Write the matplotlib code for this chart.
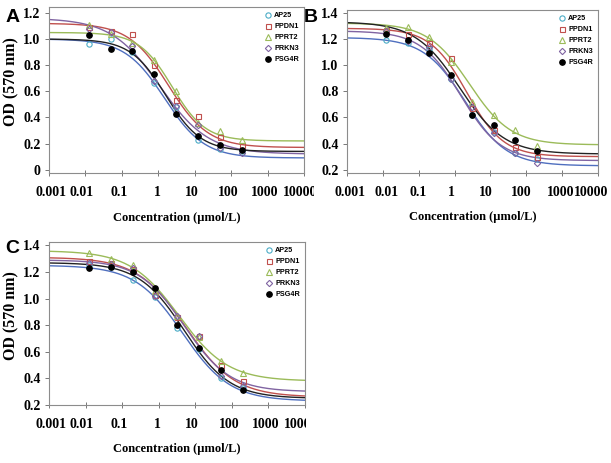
import matplotlib
matplotlib.use("Agg")
import matplotlib.pyplot as plt
from matplotlib.transforms import Bbox, ScaledTranslation
import numpy as np

# tested concentrations (umol/L), 4-fold dilution series
conc = [0.0122, 0.0488, 0.195, 0.781, 3.125, 12.5, 50, 200]
series = ["AP25", "PPDN1", "PPRT2", "PRKN3", "PSG4R"]

# measured OD values, panel A
a_ap25 = [0.96, 1.00, 0.90, 0.66, 0.48, 0.23, 0.16, 0.14]
a_ppdn1 = [1.09, 1.06, 1.04, 0.80, 0.53, 0.41, 0.25, 0.19]
a_pprt2 = [1.11, 1.04, 0.97, 0.84, 0.60, 0.36, 0.30, 0.23]
a_prkn3 = [1.08, 1.05, 0.95, 0.68, 0.49, 0.34, 0.17, 0.13]
a_psg4r = [1.03, 0.92, 0.91, 0.73, 0.43, 0.26, 0.19, 0.15]

# panel B
b_ap25 = [1.19, 1.17, 1.12, 0.89, 0.62, 0.49, 0.33, 0.28]
b_ppdn1 = [1.27, 1.24, 1.17, 1.05, 0.67, 0.50, 0.37, 0.30]
b_pprt2 = [1.28, 1.29, 1.21, 1.02, 0.72, 0.62, 0.50, 0.38]
b_prkn3 = [1.26, 1.18, 1.14, 0.89, 0.68, 0.48, 0.33, 0.25]
b_psg4r = [1.24, 1.19, 1.09, 0.92, 0.62, 0.54, 0.43, 0.34]

# panel C
c_ap25 = [1.25, 1.24, 1.14, 1.01, 0.78, 0.62, 0.40, 0.33]
c_ppdn1 = [1.28, 1.27, 1.22, 1.03, 0.86, 0.72, 0.50, 0.38]
c_pprt2 = [1.34, 1.30, 1.25, 1.06, 0.87, 0.71, 0.53, 0.44]
c_prkn3 = [1.27, 1.26, 1.23, 1.02, 0.87, 0.72, 0.42, 0.34]
c_psg4r = [1.23, 1.24, 1.20, 1.08, 0.80, 0.63, 0.46, 0.31]

# fitted 4-parameter logistic curves (top, bottom, EC50, hill), order as series
a_top = [1.00, 1.12, 1.05, 1.16, 1.00]
a_bottom = [0.09, 0.17, 0.22, 0.12, 0.14]
a_ec50 = [1.5, 1.9, 2.4, 1.1, 1.6]
a_hill = [0.8, 0.8, 0.95, 0.65, 0.9]

b_top = [1.21, 1.28, 1.32, 1.26, 1.33]
b_bottom = [0.23, 0.30, 0.39, 0.27, 0.32]
b_ec50 = [2.0, 2.2, 2.6, 1.5, 1.4]
b_hill = [0.75, 0.85, 0.75, 0.78, 0.7]

c_top = [1.25, 1.31, 1.36, 1.29, 1.27]
c_bottom = [0.23, 0.26, 0.38, 0.30, 0.25]
c_ec50 = [4.5, 5.5, 3.6, 5.0, 5.0]
c_hill = [0.67, 0.65, 0.65, 0.7, 0.7]

a_yticks = [0, 0.2, 0.4, 0.6, 0.8, 1.0, 1.2]
a_ylabels = ["0", "0.2", "0.4", "0.6", "0.8", "1.0", "1.2"]
bc_yticks = [0.2, 0.4, 0.6, 0.8, 1.0, 1.2, 1.4]
bc_ylabels = ["0.2", "0.4", "0.6", "0.8", "1.0", "1.2", "1.4"]
xticks = [0.001, 0.01, 0.1, 1, 10, 100, 1000, 10000]
xlabels = ["0.001", "0.01", "0.1", "1", "10", "100", "1000", "10000"]

# the x labels in the source figure sit a little left of their ticks (pixels)
ac_xshift = [2, -4, -3, -1, -3, -3, -3, -4]
b_xshift = [3, 4, -1, -3, -5, -5, -1, -7]

markers = ["o", "s", "^", "D", "o"]
mcolors = ["#4bacc6", "#c0504d", "#9bbb59", "#8064a2", "black"]
lcolors = ["#4f6fbf", "#c0504d", "#9bbb59", "#8064a2", "#222222"]
msizes = [3.8, 3.6, 4.2, 3.2, 4.0]

serif = "Liberation Serif"
sans = "Liberation Sans"

W, H = 611, 463
fig = plt.figure(figsize=(W / 100, H / 100), dpi=100)


def px_axes(l, t, r, b):
    return fig.add_axes([l / W, 1 - b / H, (r - l) / W, (b - t) / H])


def logistic(x, top, bottom, ec50, hill):
    return bottom + (top - bottom) / (1 + (x / ec50) ** hill)


def panel(ax, data, top, bottom, ec50, hill, ylim, yticks, ylabels, xshift,
          clip_right=None, ylabel=True):
    xs = np.logspace(-3, 4, 300)
    for i, name in enumerate(series):
        ax.plot(xs, logistic(xs, top[i], bottom[i], ec50[i], hill[i]),
                color=lcolors[i], lw=1.0, zorder=2)
        filled = name == "PSG4R"
        ax.plot(conc, data[i], linestyle="none", marker=markers[i], ms=msizes[i],
                mfc=mcolors[i] if filled else "none", mec=mcolors[i], mew=0.8,
                label=name, zorder=3)
    ax.set_xscale("log")
    ax.set_xlim(0.001, 10000)
    ax.set_ylim(*ylim)
    ax.set_xticks(xticks)
    ax.set_xticklabels(xlabels)
    ax.set_yticks(yticks)
    ax.set_yticklabels(ylabels)
    for lab in ax.get_xticklabels() + ax.get_yticklabels():
        lab.set_fontfamily(serif)
        lab.set_fontweight("bold")
        lab.set_fontsize(10)
    ax.tick_params(axis="x", which="major", direction="inout", length=4, width=0.7,
                   color="#777777", pad=7)
    ax.tick_params(axis="x", which="minor", direction="in", length=2, width=0.5,
                   color="#777777")
    ax.tick_params(axis="y", direction="out", length=3, width=0.7, color="#777777", pad=3)
    for s in ax.spines.values():
        s.set_color("#8c8c8c")
        s.set_linewidth(0.8)
    ax.set_xlabel("Concentration (µmol/L)", family=serif, weight="bold", fontsize=9)
    ax.xaxis.set_label_coords(0.5, -0.235)
    if ylabel:
        ax.set_ylabel("OD (570 nm)", family=serif, weight="bold", fontsize=11.5)
        ax.yaxis.set_label_coords(-0.115, 0.55)
    ax.legend(loc="upper right", frameon=False, handlelength=0.8,
              handletextpad=0.5, labelspacing=0.55, borderaxespad=0.3,
              prop={"family": sans, "weight": "bold", "size": 5.2})
    for tick, dx in zip(ax.xaxis.get_major_ticks(), xshift):
        lab = tick.label1
        lab.set_transform(lab.get_transform() + ScaledTranslation(dx / 100, 0, fig.dpi_scale_trans))
    if clip_right is not None:
        box = Bbox([[0, 0], [clip_right, H]])
        for lab in ax.get_xticklabels():
            lab.set_clip_box(box)
            lab.set_clip_on(True)


ax_a = px_axes(49, 7, 304, 173)
ax_b = px_axes(347, 10, 598, 173)
ax_c = px_axes(49, 242, 305, 405)

panel(ax_a, [a_ap25, a_ppdn1, a_pprt2, a_prkn3, a_psg4r], a_top, a_bottom, a_ec50, a_hill,
      (-0.025, 1.245), a_yticks, a_ylabels, ac_xshift, clip_right=314)
# panel B has no axis title on its y side in the original figure
panel(ax_b, [b_ap25, b_ppdn1, b_pprt2, b_prkn3, b_psg4r], b_top, b_bottom, b_ec50, b_hill,
      (0.175, 1.42), bc_yticks, bc_ylabels, b_xshift, ylabel=False)
panel(ax_c, [c_ap25, c_ppdn1, c_pprt2, c_prkn3, c_psg4r], c_top, c_bottom, c_ec50, c_hill,
      (0.2, 1.425), bc_yticks, bc_ylabels, ac_xshift, clip_right=306)

for letter, x, y in [("A", 13, 17), ("B", 311, 17), ("C", 12, 249)]:
    fig.text(x / W, 1 - y / H, letter, family=sans, weight="bold", fontsize=14,
             ha="center", va="center")

fig.savefig("out.png", dpi=100)
